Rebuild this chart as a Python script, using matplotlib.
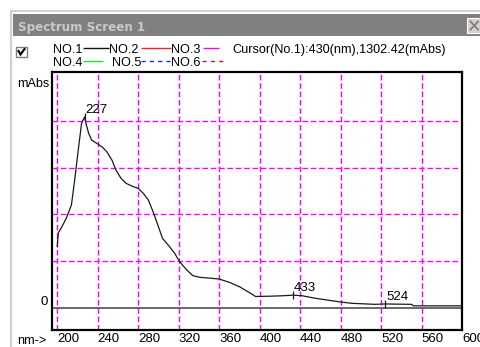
import matplotlib
matplotlib.use("Agg")
import matplotlib.pyplot as plt
from matplotlib.patches import Rectangle

# ---- spectrum data (NO.1) ----
wavelength_nm = [200, 201, 205, 209, 214, 217, 221, 224, 227, 228, 231, 234,
                 239, 244, 249, 254, 258, 263, 268, 275, 280, 285, 290, 295,
                 300, 304, 311, 316, 321, 328, 334, 341, 349, 360, 370, 380,
                 390, 396, 410, 423, 433, 442, 455, 478, 491, 514, 524, 550,
                 552, 600]
absorbance_mabs = [6530, 8000, 8750, 9600, 11000, 13490, 17100, 19740, 20420,
                   19900, 18670, 17950, 17600, 17240, 16700, 15810, 14740,
                   13850, 13320, 12960, 12780, 12250, 11530, 10200, 8670, 7430,
                   6530, 5820, 4920, 4030, 3430, 3250, 3180, 3070, 2720, 2250,
                   1610, 1200, 1230, 1280, 1340, 1280, 1010, 640, 470, 360, 400,
                   360, 200, 200]

peak_nm = [227, 433, 524]
peak_labels = ["227", "433", "524"]

x_ticks = [200, 240, 280, 320, 360, 400, 440, 480, 520, 560, 600]
x_tick_labels = ["200", "240", "280", "320", "360", "400", "440", "480",
                 "520", "560", "600"]
grid_levels = [5000, 10000, 15000, 20000]

title_text = "Spectrum Screen 1"
cursor_text = "Cursor(No.1):430(nm),1302.42(mAbs)"
legend_names = ["NO.1", "NO.2", "NO.3", "NO.4", "NO.5", "NO.6"]
legend_colors = ["#101010", "#ff2020", "#ff00ff", "#20e020", "#2020ff", "#a03030"]

FONT = "Liberation Sans"
W, H = 481, 347

fig = plt.figure(figsize=(W / 100, H / 100), dpi=100)
fig.patch.set_facecolor("white")

# ---- window chrome, drawn in pixel coordinates ----
chrome = fig.add_axes([0, 0, 1, 1], zorder=0)
chrome.set_xlim(0, W)
chrome.set_ylim(H, 0)
chrome.axis("off")

chrome.plot([10, W], [11, 11], color="#d0d0d0", lw=1.4, solid_capstyle="butt")
chrome.plot([11, 11], [11, H], color="#d0d0d0", lw=1.6, solid_capstyle="butt")
chrome.add_patch(Rectangle((13, 14), W - 13, 22, facecolor="#808080",
                           edgecolor="none"))
chrome.text(18, 30.5, title_text, family="DejaVu Sans", weight="bold",
            fontsize=8.6, color="#c8c8c8", ha="left", va="baseline")

# close button
chrome.add_patch(Rectangle((467, 18), 16, 15, facecolor="#d4d0c8",
                           edgecolor="#ffffff", lw=0.8))
chrome.plot([470.5, 478], [21.5, 29.5], color="#808080", lw=1.3)
chrome.plot([470.5, 478], [29.5, 21.5], color="#808080", lw=1.3)

# check box
chrome.add_patch(Rectangle((16, 47), 11, 10, facecolor="white",
                           edgecolor="#808080", lw=1.0))
chrome.plot([18.5, 20.5, 24.5], [51, 54.5, 49], color="black", lw=1.5,
            solid_joinstyle="miter")

# legend rows
fs = 9.5
lfs = 9.1
row1_y, row2_y = 53, 65.5
line1_y, line2_y = 47.5, 60.5
name_x = [53, 109, 171, 53, 112, 171]
name_y = [row1_y, row1_y, row1_y, row2_y, row2_y, row2_y]
seg_x = [(83, 109), (141, 171), (203, 219), (83, 103), (141, 171), (202, 227)]
seg_y = [line1_y, line1_y, line1_y, line2_y, line2_y, line2_y]
seg_style = ["-", "-", "-", "-", (0, (3, 3)), (0, (3, 3))]
for i, name in enumerate(legend_names):
    chrome.text(name_x[i], name_y[i], name, family=FONT, fontsize=lfs,
                ha="left", va="baseline", color="black")
    chrome.plot(seg_x[i], [seg_y[i], seg_y[i]], color=legend_colors[i],
                lw=1.0, ls=seg_style[i], solid_capstyle="butt")
chrome.text(232, row1_y, cursor_text, family=FONT, fontsize=lfs,
            ha="left", va="baseline", color="black")

chrome.text(17, 86.5, "mAbs", family=FONT, fontsize=lfs, ha="left",
            va="baseline")
chrome.text(47.5, 305, "0", family=FONT, fontsize=fs, ha="right",
            va="baseline")
chrome.text(17, 344.5, "nm->", family=FONT, fontsize=lfs, ha="left",
            va="baseline")

# ---- spectrum plot ----
ax = fig.add_axes([52 / W, 1 - 330 / H, 410 / W, 258 / H], zorder=2)
ax.set_facecolor("white")
ax.set_xlim(194.8, 600)
ax.set_ylim(-2388, 25236)

for side in ax.spines.values():
    side.set_color("black")
    side.set_linewidth(1.6)

ax.set_xticks(x_ticks)
ax.set_xticklabels(x_tick_labels, family=FONT, fontsize=fs)
for lbl in ax.get_xticklabels():
    lbl.set_horizontalalignment("left")
ax.set_yticks(grid_levels)
ax.set_yticklabels([])
ax.tick_params(axis="both", length=0)
ax.tick_params(axis="x", pad=2.2)

ax.grid(True, color="#ff00ff", lw=1.0, ls=(0, (4, 2)))
ax.set_axisbelow(True)

ax.axhline(0, color="#505050", lw=1.2, zorder=2)
ax.plot(wavelength_nm, absorbance_mabs, color="#1a1a1a", lw=0.9, zorder=3)

peak_vals = [absorbance_mabs[wavelength_nm.index(p)] for p in peak_nm]
ax.plot(peak_nm, peak_vals, ls="none", marker="|", ms=6, mew=0.9,
        color="#1a1a1a", zorder=4)
for p, v, lab in zip(peak_nm, peak_vals, peak_labels):
    ax.annotate(lab, (p, v), xytext=(0.8, 3.0), textcoords="offset points",
                ha="left", va="baseline", family=FONT, fontsize=fs,
                color="black", zorder=5)

fig.savefig("out.png", dpi=100, facecolor="white")
